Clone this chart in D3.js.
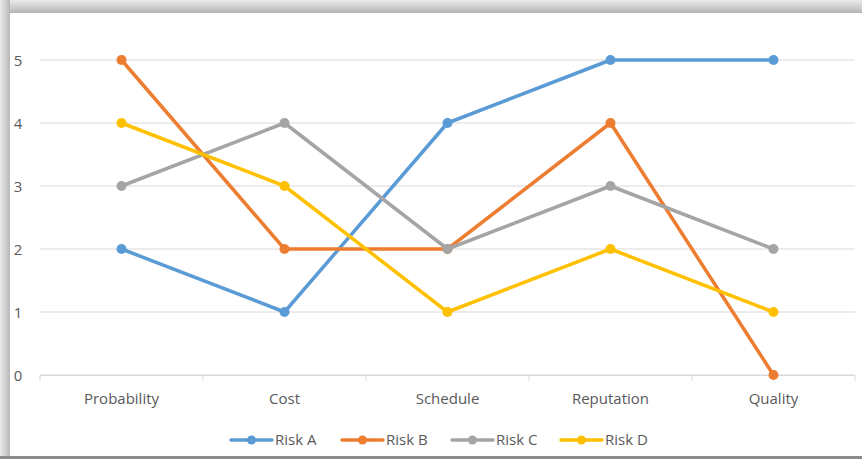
<!DOCTYPE html>
<html>
<head>
<meta charset="utf-8">
<script src="https://cdn.jsdelivr.net/npm/d3@7"></script>
<style>
  html, body { margin: 0; padding: 0; background: #ffffff; }
  svg { display: block; }
  text { font-family: "Open Sans", "Liberation Sans", sans-serif; fill: #595959; }
</style>
</head>
<body>
<svg id="chart" width="862" height="459"></svg>
<script>
// Risk scores per criterion
const categories = ["Probability", "Cost", "Schedule", "Reputation", "Quality"];
const seriesNames = ["Risk A", "Risk B", "Risk C", "Risk D"];
const riskA = [2, 1, 4, 5, 5];
const riskB = [5, 2, 2, 4, 0];
const riskC = [3, 4, 2, 3, 2];
const riskD = [4, 3, 1, 2, 1];
const yTicks = [0, 1, 2, 3, 4, 5];
const colors = ["#5B9BD5", "#ED7D31", "#A5A5A5", "#FFC000"];

const series = seriesNames.map((name, i) => ({
  name, color: colors[i], values: [riskA, riskB, riskC, riskD][i]
}));

const W = 862, H = 459;
const FS = 15;
const svg = d3.select("#chart");

// Frame: grey drop-shadow edges around the white chart area
const defs = svg.append("defs");
const gTop = defs.append("linearGradient").attr("id", "gTop").attr("x1", 0).attr("y1", 0).attr("x2", 0).attr("y2", 1);
gTop.append("stop").attr("offset", "0%").attr("stop-color", "#ececec");
gTop.append("stop").attr("offset", "100%").attr("stop-color", "#b4b4b4");
const gLeft = defs.append("linearGradient").attr("id", "gLeft").attr("x1", 0).attr("y1", 0).attr("x2", 1).attr("y2", 0);
gLeft.append("stop").attr("offset", "0%").attr("stop-color", "#ececec");
gLeft.append("stop").attr("offset", "100%").attr("stop-color", "#b8b8b8");

svg.append("rect").attr("x", 0).attr("y", 0).attr("width", W).attr("height", 13).attr("fill", "url(#gTop)");
svg.append("rect").attr("x", 0).attr("y", 0).attr("width", 10).attr("height", H).attr("fill", "url(#gLeft)");
svg.append("rect").attr("x", 10).attr("y", 13).attr("width", W - 10).attr("height", 443).attr("fill", "#ffffff");
svg.append("rect").attr("x", 0).attr("y", 456).attr("width", W).attr("height", 3).attr("fill", "#8c8c8c");

// Scales
const x = d3.scaleBand().domain(categories).range([40, 855]);
const y = d3.scaleLinear().domain([0, 5]).range([375, 60]);
const cx = c => x(c) + x.bandwidth() / 2;

// Horizontal gridlines
svg.append("g")
  .selectAll("line").data(yTicks).join("line")
  .attr("x1", 40).attr("x2", 855)
  .attr("y1", d => y(d)).attr("y2", d => y(d))
  .attr("stroke", "#d9d9d9").attr("stroke-width", 1);

// Y axis labels
const yAxis = d3.axisLeft(y).tickValues(yTicks).tickSize(0).tickPadding(0).tickFormat(d3.format("d"));
const gy = svg.append("g").attr("transform", "translate(18,0)").call(yAxis);
gy.select(".domain").remove();
gy.selectAll("text").attr("font-size", FS).attr("text-anchor", "middle").attr("dy", "0.35em")
  .style("font-family", "'Open Sans', 'Liberation Sans', sans-serif").attr("fill", "#595959");

// X axis with tick marks between categories
const gx = svg.append("g").attr("transform", "translate(0,375)");
gx.append("line").attr("x1", 40).attr("x2", 855).attr("y1", 0.5).attr("y2", 0.5).attr("stroke", "#d9d9d9");
const bounds = categories.map(c => x(c)).concat([x.range()[1]]);
gx.selectAll("line.tick").data(bounds).join("line").attr("class", "tick")
  .attr("x1", d => d).attr("x2", d => d).attr("y1", 0).attr("y2", 6)
  .attr("stroke", "#d9d9d9");
gx.selectAll("text").data(categories).join("text")
  .attr("x", d => cx(d)).attr("y", 29)
  .attr("text-anchor", "middle").attr("font-size", FS).text(d => d);

// Lines with markers
const line = d3.line().x((d, i) => cx(categories[i])).y(d => y(d));
const gs = svg.append("g").selectAll("g").data(series).join("g");
gs.append("path")
  .attr("d", d => line(d.values))
  .attr("fill", "none").attr("stroke", d => d.color)
  .attr("stroke-width", 3.5).attr("stroke-linejoin", "round").attr("stroke-linecap", "round");
gs.selectAll("circle").data(d => d.values.map(v => ({ v, color: d.color }))).join("circle")
  .attr("cx", (d, i) => cx(categories[i])).attr("cy", d => y(d.v))
  .attr("r", 5).attr("fill", d => d.color);

// Legend
const legendX = [231, 342, 452, 561];
const lg = svg.append("g").attr("transform", "translate(0,440)")
  .selectAll("g").data(series).join("g")
  .attr("transform", (d, i) => `translate(${legendX[i]},0)`);
lg.append("line").attr("x1", 0).attr("x2", 41).attr("y1", 0).attr("y2", 0)
  .attr("stroke", d => d.color).attr("stroke-width", 3.5).attr("stroke-linecap", "round");
lg.append("circle").attr("cx", 20.5).attr("cy", 0).attr("r", 4.5).attr("fill", d => d.color);
lg.append("text").attr("x", 44).attr("y", 0).attr("dy", "0.35em")
  .attr("font-size", FS).text(d => d.name);
</script>
</body>
</html>
